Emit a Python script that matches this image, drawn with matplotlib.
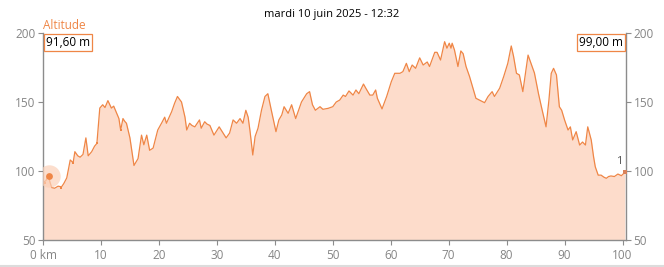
import matplotlib
matplotlib.use("Agg")
import matplotlib.pyplot as plt
from matplotlib.lines import Line2D

plt.rcParams['font.family'] = ['Open Sans', 'DejaVu Sans']

title = "mardi 10 juin 2025 - 12:32"
series_name = "Altitude"
start_label = "91,60 m"
end_label = "99,00 m"

# profile: distance (km), altitude (m)
km = [0.0, 0.5, 0.9, 1.2, 1.5, 2.0, 2.6, 3.2, 3.6, 4.1, 4.7, 5.2, 5.5, 6.0,
      6.4, 6.9, 7.4, 7.8, 8.4, 8.9, 9.3, 9.8, 10.3, 10.7, 11.2, 11.8, 12.2,
      12.7, 13.1, 13.4, 13.8, 14.1, 14.4, 15.0, 15.7, 16.4, 17.0, 17.4, 17.9,
      18.4, 19.0, 19.8, 20.5, 21.0, 21.3, 22.2, 22.7, 23.2, 23.9, 24.5, 24.8,
      25.3, 25.7, 26.2, 27.0, 27.3, 27.9, 28.3, 28.8, 29.5, 30.4, 31.0, 31.6,
      32.2, 32.8, 33.4, 34.0, 34.5, 35.0, 35.4, 35.7, 36.2, 36.6, 37.1, 37.7,
      38.3, 38.8, 39.4, 40.2, 40.7, 41.2, 41.6, 42.3, 42.9, 43.6, 44.6, 45.5,
      46.0, 46.5, 47.0, 47.8, 48.3, 49.2, 50.0, 50.6, 51.2, 51.8, 52.2, 52.8,
      53.5, 54.0, 54.5, 55.3, 55.7, 56.4, 56.9, 57.4, 57.7, 58.5, 59.3, 60.1,
      60.7, 61.6, 62.1, 62.7, 63.2, 63.7, 64.3, 65.0, 65.6, 66.3, 66.7, 67.6,
      68.0, 68.6, 69.3, 69.7, 70.1, 70.4, 70.6, 71.0, 71.6, 72.1, 72.5, 73.0,
      73.6, 74.2, 74.7, 75.3, 76.2, 76.8, 77.5, 77.9, 78.8, 79.5, 80.2, 80.8,
      81.2, 81.7, 82.2, 82.8, 83.7, 84.2, 84.8, 85.5, 86.0, 86.8, 87.3, 87.7,
      88.1, 88.6, 89.1, 89.5, 90.0, 90.6, 91.0, 91.4, 92.0, 92.6, 93.1, 93.6,
      94.0, 94.6, 95.0, 95.3, 95.8, 96.3, 96.8, 97.2, 97.6, 98.0, 98.6, 99.2,
      99.8, 100.4]
alt = [91.6, 93, 97, 92, 88, 87.5, 89, 88.5, 91, 95, 108, 106, 114, 111,
       110, 112, 124, 111, 114, 118, 120, 145.6, 148, 146, 151, 145.6, 147,
       142, 138, 129.7, 138, 136, 134.6, 124, 104, 109, 126, 119, 126,
       115, 116.6, 129.7, 135, 139, 134.6, 143, 149, 154, 150, 139, 129.7,
       134.6, 133, 132, 137, 131, 135.7, 134, 133, 126, 132, 128, 124,
       127.5, 137, 134.6, 138, 134.6, 144, 139, 129.7, 111.6, 125, 131, 144,
       154, 156, 144, 128.5, 137, 140.6, 146.6, 141.8, 148, 138, 150, 156,
       157.5, 148, 144, 146.6, 144.7, 145.4, 146.6, 150, 151.4, 155, 154, 158,
       155, 158.7, 156, 163, 160, 155, 155, 158.7, 152.7, 145, 154, 164.7,
       170.8, 170.8, 172, 178, 172, 176.8, 174.4, 182, 176.8, 179, 175.7, 186,
       186, 180.4, 193.7, 189, 192.6, 189, 192.6, 187.7, 175.7, 187, 185, 175.7,
       168.5, 160, 152.7, 151.4, 149.5, 154, 157.5, 154, 160, 168.5, 178, 190.6,
       183, 170.8, 169.6, 157.5, 184, 178, 171, 156, 146.6, 132, 151.4, 170.8,
       174.4, 169.6, 146.6, 144, 137, 129.7, 132, 122.5, 128.5, 118.8, 121, 118.8,
       132, 122.5, 110.4, 103, 97, 97, 95.5, 94.7, 96, 96.4, 96, 97.8,
       96.6, 99.0]

# small waypoint markers on the line
wp_km = [0.3, 3.1, 5.1, 9.3, 13.4]
wp_alt = [91.3, 88, 106, 120, 129.7]

cursor_km, cursor_alt = 1.0, 96.5

x_ticks = [0, 10, 20, 30, 40, 50, 60, 70, 80, 90, 100]
x_labels = ["0 km"] + [str(t) for t in x_ticks[1:]]
y_ticks = [50, 100, 150, 200]

line_c = "#ef8646"
fill_c = "#fddccb"
grey = "#8c8c8c"

fig = plt.figure(figsize=(6.64, 2.67), dpi=100)
ax = fig.add_axes([43 / 664, 1 - 240 / 267, (626 - 43) / 664, (240 - 33) / 267])

ax.fill_between(km, alt, 50, color=fill_c, lw=0)
ax.plot(km, alt, color=line_c, lw=0.9)
ax.scatter(wp_km, wp_alt, s=3, marker="s", color=line_c, zorder=3, lw=0)
ax.scatter([cursor_km], [cursor_alt], s=260, color="#fbd0b8", alpha=0.7, lw=0, zorder=3)
ax.scatter([cursor_km], [cursor_alt], s=24, color=line_c, lw=0, zorder=4)
ax.scatter([km[-1]], [alt[-1]], s=6, marker="s", color="#d9825a", lw=0, zorder=4)
ax.text(km[-1] - 0.4, alt[-1] + 4, "1", color="#555555", fontsize=8, ha="right", va="bottom")

ax.set_xlim(0, 100.6)
ax.set_ylim(50, 200)
ax.set_xticks(x_ticks)
ax.set_xticklabels(x_labels)
ax.set_yticks(y_ticks)

ax.spines["top"].set_visible(False)
for s in ["left", "right", "bottom"]:
    ax.spines[s].set_color(grey)
    ax.spines[s].set_linewidth(1)

ax.tick_params(axis="both", colors=grey, labelcolor="#858585", labelsize=8.5,
               length=3.5, width=0.8, pad=2)
ax.tick_params(axis="y", left=True, right=True, labelleft=True, labelright=True)
ax.tick_params(axis="x", pad=3)

fig.text(0.5, 1 - 14 / 267, title, ha="center", va="center", fontsize=8, color="black")
ax.text(0.0, 1.018, series_name, transform=ax.transAxes, color=line_c,
        fontsize=8.5, ha="left", va="baseline")

box = dict(boxstyle="square,pad=0.15", fc="white", ec=line_c, lw=0.9)
ax.annotate(start_label, xy=(0, 1), xycoords="axes fraction", xytext=(2, -2),
            textcoords="offset points", ha="left", va="top", fontsize=8.5,
            color="black", bbox=box)
ax.annotate(end_label, xy=(1, 1), xycoords="axes fraction", xytext=(-2, -2),
            textcoords="offset points", ha="right", va="top", fontsize=8.5,
            color="black", bbox=box)

fig.add_artist(Line2D([0, 1], [1 - 266 / 267, 1 - 266 / 267], color="#dcdcdc", lw=1.5))

fig.savefig("out.png", dpi=100)
